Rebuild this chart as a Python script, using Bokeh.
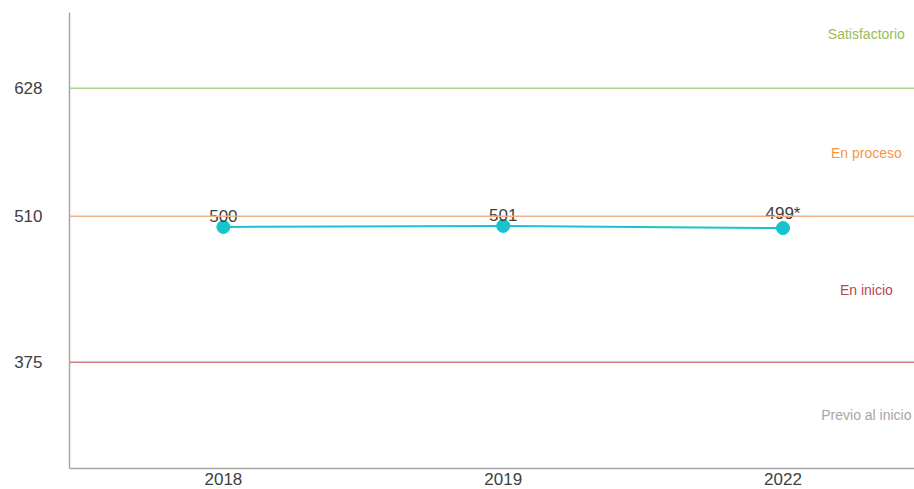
from bokeh.plotting import figure
from bokeh.models import Range1d, FixedTicker, ColumnDataSource, Span
from bokeh.embed import file_html
from bokeh.resources import INLINE
from bokeh.core.properties import value

# data
years = ["2018", "2019", "2022"]
scores = [500, 501, 499]
score_labels = ["500", "501", "499*"]

# level thresholds
thresholds = [628, 510, 375]
threshold_colors = ["#a9d18e", "#f4b183", "#d27a80"]

# band labels
band_names = ["Satisfactorio", "En proceso", "En inicio", "Previo al inicio"]
band_label_y = [678, 568, 442, 326]
band_colors = ["#9bbb59", "#f79646", "#b9474d", "#a6a6a6"]

FONT = "Liberation Sans"

xs = list(range(len(years)))

p = figure(width=914, height=489, output_backend="svg", toolbar_location=None,
           x_range=Range1d(-0.55, 2.47), y_range=Range1d(277, 698),
           min_border_left=69, min_border_right=0, min_border_top=12, min_border_bottom=21)
p.outline_line_color = None
p.xgrid.visible = False
p.ygrid.visible = False
p.background_fill_color = "white"

for t, c in zip(thresholds, threshold_colors):
    p.add_layout(Span(location=t, dimension="width", line_color=c, line_width=1.5))

src = ColumnDataSource(dict(x=xs, y=scores, lab=score_labels))
p.line("x", "y", source=src, line_color="#17c3cc", line_width=2)
p.scatter("x", "y", source=src, size=13, fill_color="#17c3cc", line_color="#17c3cc")
p.text("x", "y", text="lab", source=src, text_align="center", text_baseline="bottom",
       y_offset=-5, text_font=value(FONT), text_font_size="17px", text_color="#404040")

bsrc = ColumnDataSource(dict(x=[2.298] * len(band_names), y=band_label_y, t=band_names, c=band_colors))
p.text("x", "y", text="t", source=bsrc, text_color="c", text_align="center",
       text_baseline="middle", text_font=value(FONT), text_font_size="14px")

p.xaxis.ticker = FixedTicker(ticks=xs)
p.xaxis.major_label_overrides = {i: y for i, y in zip(xs, years)}
p.yaxis.ticker = FixedTicker(ticks=thresholds)

for ax in (p.xaxis, p.yaxis):
    ax.axis_line_color = "#a6a6a6"
    ax.axis_line_width = 1.5
    ax.major_tick_line_color = None
    ax.minor_tick_line_color = None
    ax.major_tick_out = 0
    ax.major_tick_in = 0
    ax.major_label_text_font = FONT
    ax.major_label_text_font_size = "17px"
    ax.major_label_text_color = "#404040"
p.yaxis.major_label_standoff = 27
p.xaxis.major_label_standoff = 4

open("out.html", "w").write(file_html(p, INLINE))
